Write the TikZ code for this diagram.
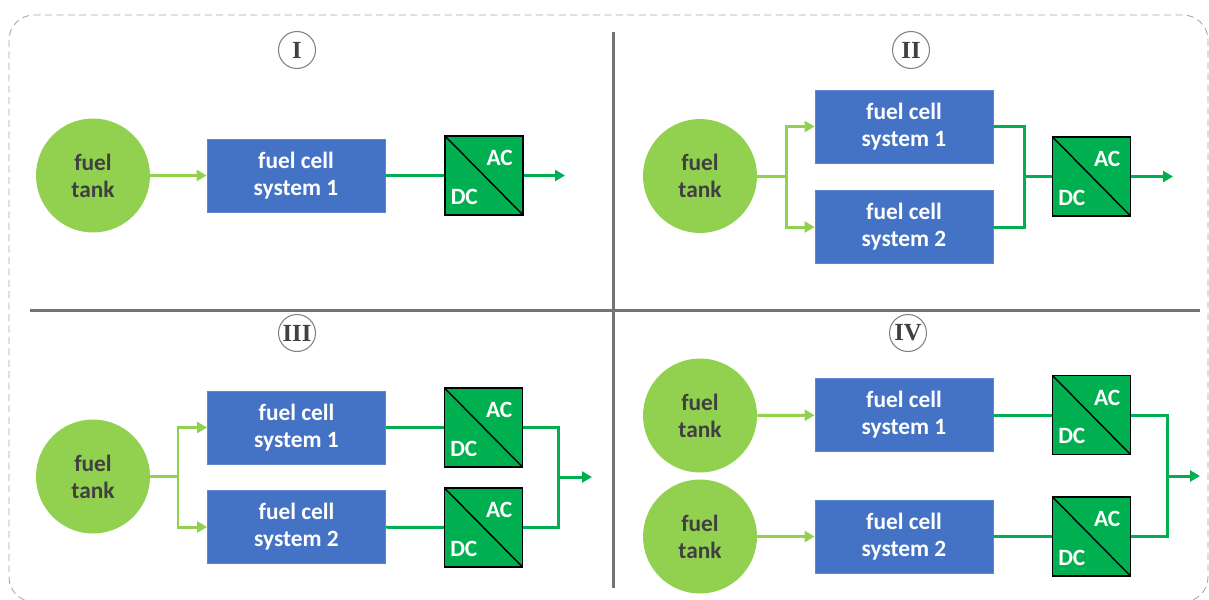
\documentclass[tikz,border=0pt]{standalone}
\usepackage{fontspec}
\setmainfont{Carlito}
\newfontfamily\romanfont{Liberation Serif}
\usetikzlibrary{arrows.meta}
\definecolor{tankgreen}{HTML}{92D050}
\definecolor{powgreen}{HTML}{00B050}
\definecolor{fcblue}{HTML}{4472C4}
\definecolor{txtgray}{HTML}{404040}
\definecolor{divgray}{HTML}{737373}

\begin{document}
\begin{tikzpicture}[x=0.02cm,y=-0.02cm,line join=miter,
  font=\bfseries\fontsize{13.3}{15.5}\selectfont,
  tank/.style={circle,fill=tankgreen,minimum size=2.28cm,inner sep=0pt,align=center,text=txtgray},
  fcbox/.style={rectangle,fill=fcblue,draw=fcblue!85!white,line width=0.5pt,minimum width=3.56cm,minimum height=1.46cm,align=center,text=white},
  conv/.style={rectangle,draw=black,line width=0.8pt,fill=powgreen,minimum width=1.56cm,minimum height=1.58cm,
    path picture={\draw[line width=0.8pt] (path picture bounding box.north west) -- (path picture bounding box.south east);}},
  convtxt/.style={text=white,inner sep=0pt},
  romnum/.style={circle,draw=gray,line width=0.6pt,minimum size=0.74cm,inner sep=0pt,text=txtgray,
    font=\romanfont\bfseries\fontsize{14}{14}\selectfont},
  feed/.style={draw=tankgreen,line width=1.7pt,-{Triangle[length=0.2cm,width=0.22cm]}},
  power/.style={draw=powgreen,line width=1.7pt},
  powout/.style={power,-{Triangle[length=0.2cm,width=0.22cm]}},
  divider/.style={draw=divgray,line width=1.7pt}]
  \useasboundingbox (0,0) rectangle (1209,599);
  % frame and dividers
  \draw[gray!70,line width=0.5pt,dash pattern=on 4pt off 2.5pt,rounded corners=0.5cm] (9,15) rectangle (1208,602);
  \draw[divider] (30,310) -- (1200,310);
  \draw[divider] (613,32) -- (613,588);
  % panel labels
  \node[romnum] (n1) at (297,50) {I};
  \node[romnum] (n2) at (911,50) {II};
  \node[romnum] (n3) at (297,333) {III};
  \node[romnum] (n4) at (908,333) {IV};
  % tanks
  \node[tank] (t1) at (93,175.5) {fuel\\tank};
  \node[tank] (t2) at (700,176) {fuel\\tank};
  \node[tank] (t3) at (93,476.5) {fuel\\tank};
  \node[tank] (t41) at (700,415.5) {fuel\\tank};
  \node[tank] (t42) at (700,536.5) {fuel\\tank};
  % fuel cell systems
  \node[fcbox] (f1) at (296,175.5) {fuel cell\\system 1};
  \node[fcbox] (f21) at (904,126.5) {fuel cell\\system 1};
  \node[fcbox] (f22) at (904,227) {fuel cell\\system 2};
  \node[fcbox] (f31) at (296.5,427.5) {fuel cell\\system 1};
  \node[fcbox] (f32) at (296.5,527) {fuel cell\\system 2};
  \node[fcbox] (f41) at (904,415) {fuel cell\\system 1};
  \node[fcbox] (f42) at (904,536.5) {fuel cell\\system 2};
  % DC/AC converters
  \foreach \n/\x/\y in {c1/484/175.5,c2/1091.5/176.5,c31/483.5/427.5,c32/483.5/527.5,c41/1091.5/415,c42/1091.5/536.5} {
    \node[conv] (\n) at (\x,\y) {};
    \node[convtxt] (\n ac) at ([shift={(-24,23)}]\n.north east) {AC};
    \node[convtxt] (\n dc) at ([shift={(20,-19)}]\n.south west) {DC};
  }
  % junction points
  \coordinate (s2) at (786,176);
  \coordinate (j2) at (1024.5,176.5);
  \coordinate (o1) at (565,175.5);
  \coordinate (o2) at (1173,176.5);
  \coordinate (s3) at (178,476.5);
  \coordinate (j3) at (558,477);
  \coordinate (o3) at (592,477);
  \coordinate (j4) at (1167,476);
  \coordinate (o4) at (1200,476);
  % I
  \draw[feed] (t1) -- (f1);
  \draw[power] (f1) -- (c1);
  \draw[powout] (c1) -- (o1);
  % II
  \draw[feed] (t2) -- (s2) |- (f21);
  \draw[feed] (s2) |- (f22);
  \draw[power] (f21) -| (j2);
  \draw[power] (f22) -| (j2);
  \draw[power] (j2) -- (c2);
  \draw[powout] (c2) -- (o2);
  % III
  \draw[feed] (t3) -- (s3) |- (f31);
  \draw[feed] (s3) |- (f32);
  \draw[power] (f31) -- (c31);
  \draw[power] (f32) -- (c32);
  \draw[power] (c31) -| (j3);
  \draw[power] (c32) -| (j3);
  \draw[powout] (j3) -- (o3);
  % IV
  \draw[feed] (t41) -- (f41);
  \draw[feed] (t42) -- (f42);
  \draw[power] (f41) -- (c41);
  \draw[power] (f42) -- (c42);
  \draw[power] (c41) -| (j4);
  \draw[power] (c42) -| (j4);
  \draw[powout] (j4) -- (o4);
\end{tikzpicture}
\end{document}
